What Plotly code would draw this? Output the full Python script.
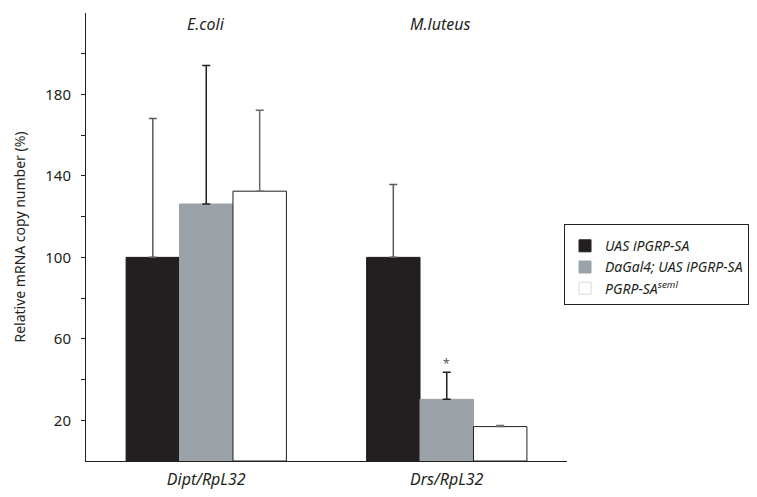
import plotly.graph_objects as go

# Assays (x categories) and the infection shown above each group
assays = ["<i>Dipt/RpL32</i>", "<i>Drs/RpL32</i>"]
infections = ["<i>E.coli</i>", "<i>M.luteus</i>"]

# Genotypes (series)
genotypes = ["<i>UAS iPGRP-SA</i>", "<i>DaGal4; UAS iPGRP-SA</i>", "<i>PGRP-SA<sup>seml</sup></i>"]

# Relative mRNA copy number (%) and upper error (SD) for each genotype
values = [
    [100.0, 100.0],
    [126.2, 30.3],
    [132.5, 16.9],
]
errors = [
    [68.2, 35.8],
    [68.0, 13.3],
    [39.8, 0.5],
]

# y-axis ticks every 20, labels only on 20, 60, 100, ...
tick_vals = [20, 40, 60, 80, 100, 120, 140, 160, 180, 200]
tick_text = ["20", "", "60", "", "100", "", "140", "", "180", ""]

fill_colors = ["#231f20", "#9ca3a8", "#ffffff"]
line_colors = ["#231f20", "#9ca3a8", "#231f20"]
legend_line_colors = ["#231f20", "#9ca3a8", "#d8d8d8"]
err_colors = ["#5a5a5a", "#231f20", "#6a6a6a"]

FONT = "Noto Sans"
INK = "#231f20"

fig = go.Figure()
xs = [0, 1]
for name, vals, errs, fc, lc, ec in zip(genotypes, values, errors, fill_colors, line_colors, err_colors):
    fig.add_trace(go.Bar(
        x=xs, y=vals, name=name, showlegend=False,
        marker=dict(color=fc, line=dict(color=lc, width=1)),
        error_y=dict(type="data", array=errs, symmetric=False, arrayminus=[0, 0],
                     color=ec, thickness=1.5, width=4),
    ))

# legend keys: square markers so the swatch outline can differ from the bars
for name, fc, lc in zip(genotypes, fill_colors, legend_line_colors):
    fig.add_trace(go.Scatter(
        x=[None], y=[None], name=name, mode="markers", showlegend=True,
        marker=dict(symbol="square", size=12, color=fc, line=dict(color=lc, width=1)),
    ))

# group titles above the bars
for i, lab in enumerate(infections):
    fig.add_annotation(x=xs[i], y=1.0, yref="paper", yanchor="top", yshift=2,
                       xshift=(0 if i == 0 else -6),
                       text=lab, showarrow=False,
                       font=dict(family=FONT, size=16, color=INK))

# significance mark over the DaGal4 bar in the M.luteus group
fig.add_annotation(x=xs[1], y=values[1][1] + errors[1][1], yanchor="bottom", yshift=-2,
                   text="*", showarrow=False,
                   font=dict(family=FONT, size=12, color="#555555"))

fig.update_layout(
    width=757, height=497,
    margin=dict(l=86, r=190, t=13, b=36, autoexpand=False),
    paper_bgcolor="white", plot_bgcolor="white",
    barmode="group", bargap=1/3, bargroupgap=0,
    font=dict(family=FONT, color=INK),
    showlegend=True,
    legend=dict(
        x=0.9938, y=0.529, xanchor="left", yanchor="top",
        bordercolor=INK, borderwidth=1, bgcolor="white",
        font=dict(family=FONT, size=14, color=INK),
        itemsizing="trace", tracegroupgap=0,
        entrywidth=186,
        title=dict(text=" ", font=dict(size=4)),
    ),
    xaxis=dict(
        range=[-0.5, 1.5], tickvals=xs, ticktext=assays,
        showline=True, linecolor=INK, linewidth=1,
        ticks="", showgrid=False, zeroline=False,
        tickfont=dict(family=FONT, size=16, color=INK),
        ticklabelstandoff=4, automargin=False,
    ),
    yaxis=dict(
        range=[0, 220], tickvals=tick_vals, ticktext=tick_text,
        showline=True, linecolor=INK, linewidth=1,
        ticks="outside", ticklen=4, tickcolor=INK, tickwidth=1,
        showgrid=False, zeroline=False,
        tickfont=dict(family=FONT, size=15, color=INK),
        ticklabelstandoff=7, automargin=False,
        title=dict(text="Relative mRNA copy number (%)", standoff=16,
                   font=dict(family=FONT, size=14, color=INK)),
    ),
)

fig.write_html("out.html")
